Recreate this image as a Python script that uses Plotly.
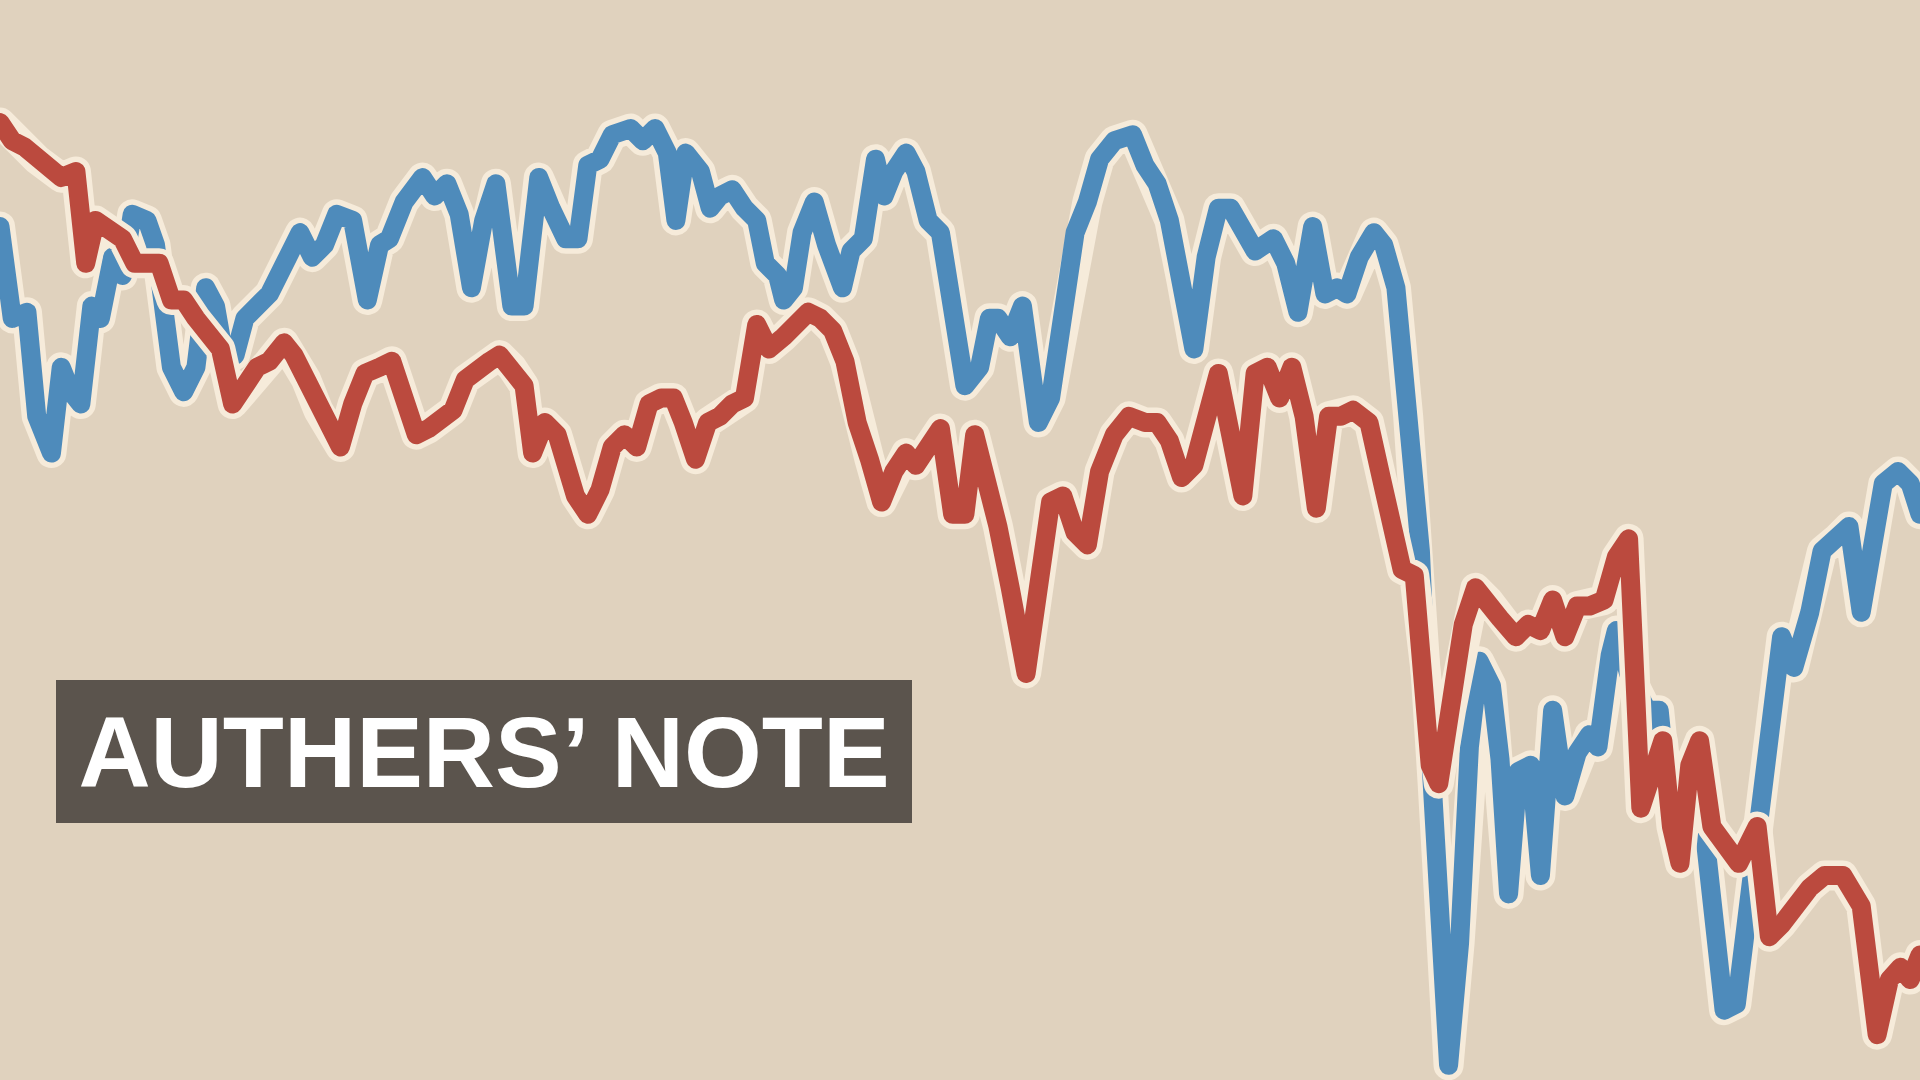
import plotly.graph_objects as go

# Series values (arbitrary index units)
blue_x = [0, 10, 22, 30, 42, 50, 58, 66, 75, 82, 92, 100, 108, 120, 127, 135, 140, 150, 160, 168,
          176, 183, 192, 200, 210, 220, 235, 245, 255, 265, 275, 288, 300, 310, 318, 330, 345, 355, 365, 375,
          385, 395, 405, 418, 428, 440, 450, 462, 472, 480, 490, 500, 515, 525, 535, 545, 552, 560, 572, 580,
          588, 598, 608, 618, 625, 635, 640, 648, 655, 665, 675, 688, 695, 705, 715, 722, 730, 740, 748, 758,
          768, 775, 780, 788, 800, 808, 815, 825, 835, 848, 858, 868, 878, 888, 898, 910, 925, 935, 945, 955,
          965, 975, 985, 995, 1005, 1015, 1025, 1040, 1050, 1060, 1072, 1082, 1092, 1100, 1110, 1122, 1130, 1140, 1150, 1160,
          1165, 1170, 1178, 1183, 1192, 1200, 1208, 1218, 1225, 1232, 1240, 1250, 1258, 1268, 1278, 1288, 1298, 1305, 1315, 1320,
          1330, 1345, 1355, 1360, 1370, 1380, 1392, 1400, 1408, 1418, 1430, 1440, 1450, 1455, 1465, 1478, 1488, 1500, 1510, 1520,
          1530, 1538, 1550, 1560, 1568]
blue_y = [697, 622, 627, 542, 512, 582, 562, 552, 632, 622, 672, 657, 707, 702, 682, 622, 582, 562, 582, 647,
          632, 592, 592, 622, 632, 642, 672, 692, 672, 682, 707, 702, 637, 682, 687, 717, 737, 722, 732, 707,
          647, 702, 732, 632, 632, 737, 712, 687, 687, 747, 752, 772, 777, 767, 777, 757, 702, 757, 742, 712,
          722, 727, 712, 702, 667, 657, 637, 647, 692, 717, 682, 647, 677, 687, 752, 722, 742, 757, 742, 702,
          692, 652, 622, 567, 582, 622, 622, 607, 632, 537, 557, 622, 692, 717, 752, 767, 772, 747, 732, 702,
          652, 597, 672, 712, 712, 697, 677, 687, 667, 627, 697, 642, 647, 642, 672, 692, 682, 647, 542, 432,
          322, 242, 82, 12, 112, 272, 342, 322, 262, 152, 252, 257, 167, 302, 232, 267, 282, 272, 347, 367,
          332, 302, 302, 252, 232, 242, 202, 122, 57, 62, 162, 242, 302, 362, 337, 382, 432, 442, 452, 382,
          432, 487, 497, 487, 462]

red_x = [0, 10, 20, 30, 40, 50, 62, 70, 78, 88, 100, 110, 120, 130, 140, 150, 160, 170, 180, 190,
         200, 210, 220, 232, 240, 250, 260, 270, 278, 288, 298, 310, 320, 330, 340, 350, 360, 370, 380, 390,
         400, 408, 418, 428, 435, 445, 455, 462, 470, 480, 490, 500, 510, 520, 530, 540, 550, 558, 568, 578,
         588, 598, 608, 618, 628, 640, 650, 660, 670, 680, 690, 700, 710, 720, 730, 740, 748, 758, 768, 778,
         788, 796, 805, 815, 825, 838, 848, 858, 868, 878, 888, 898, 910, 922, 935, 945, 955, 965, 975, 985,
         995, 1005, 1015, 1025, 1035, 1045, 1055, 1065, 1075, 1085, 1095, 1105, 1118, 1128, 1138, 1145, 1155, 1160, 1168, 1175,
         1185, 1195, 1205, 1215, 1225, 1238, 1248, 1258, 1268, 1278, 1288, 1298, 1310, 1320, 1330, 1340, 1350, 1358, 1365, 1372,
         1380, 1388, 1398, 1410, 1420, 1435, 1445, 1455, 1465, 1478, 1490, 1505, 1520, 1527, 1533, 1543, 1552, 1560, 1568]
red_y = [782, 767, 762, 752, 742, 737, 742, 667, 702, 697, 687, 667, 667, 667, 637, 637, 622, 607, 597, 552,
         567, 582, 587, 602, 592, 572, 547, 532, 517, 552, 577, 582, 587, 557, 527, 532, 542, 547, 572, 582,
         587, 592, 582, 567, 512, 537, 527, 502, 477, 462, 482, 517, 527, 517, 552, 557, 557, 537, 507, 537,
         542, 552, 557, 617, 597, 607, 617, 627, 622, 612, 587, 537, 507, 472, 497, 512, 502, 517, 532, 462,
         462, 527, 497, 452, 402, 332, 402, 472, 477, 447, 437, 497, 527, 542, 537, 537, 522, 492, 502, 537,
         577, 527, 477, 577, 582, 557, 582, 542, 467, 542, 542, 547, 537, 492, 452, 417, 412, 362, 257, 242,
         302, 372, 402, 392, 377, 362, 372, 367, 392, 362, 387, 387, 392, 427, 442, 222, 252, 277, 207, 177,
         257, 277, 207, 192, 177, 207, 117, 127, 142, 157, 167, 167, 142, 82, 37, 82, 92, 82, 102]

label_text = "AUTHERS\u2019 NOTE"

BG = "#E0D2BE"
HALO = "#F6EBDA"
BLUE = "#4E8BBB"
RED = "#BB4A3E"
BOX = "#5B544D"

fig = go.Figure()
for xs, ys, col in [(blue_x, blue_y, BLUE), (red_x, red_y, RED)]:
    fig.add_trace(go.Scatter(x=xs, y=ys, mode="lines", hoverinfo="skip",
                             line=dict(color=HALO, width=30), showlegend=False))
    fig.add_trace(go.Scatter(x=xs, y=ys, mode="lines", hoverinfo="skip",
                             line=dict(color=col, width=19), showlegend=False))

fig.add_annotation(
    text="<b>" + label_text + "</b>",
    xref="paper", yref="paper", x=56 / 1920, y=1 - 680 / 1080,
    xanchor="left", yanchor="top",
    width=856, height=143, borderpad=0, borderwidth=0,
    bgcolor=BOX, align="center", valign="middle", showarrow=False,
    font=dict(family="Liberation Sans, Arial, sans-serif", size=100, color="#FFFFFF"),
)

fig.update_layout(
    width=1920, height=1080,
    margin=dict(l=0, r=0, t=0, b=0),
    paper_bgcolor=BG, plot_bgcolor=BG,
    xaxis=dict(range=[0, 1568], visible=False, fixedrange=True),
    yaxis=dict(range=[0, 882], visible=False, fixedrange=True),
    showlegend=False,
)

post = ("document.body.style.margin='0';document.body.style.padding='0';"
        "document.body.style.overflow='hidden';"
        "document.documentElement.style.overflow='hidden';"
        "document.body.style.background='" + BG + "';"
        "document.querySelectorAll('.js-line').forEach(function(p){"
        "p.style.strokeLinejoin='round';p.style.strokeLinecap='round';});")

fig.write_html("out.html", config={"displayModeBar": False}, post_script=post)
